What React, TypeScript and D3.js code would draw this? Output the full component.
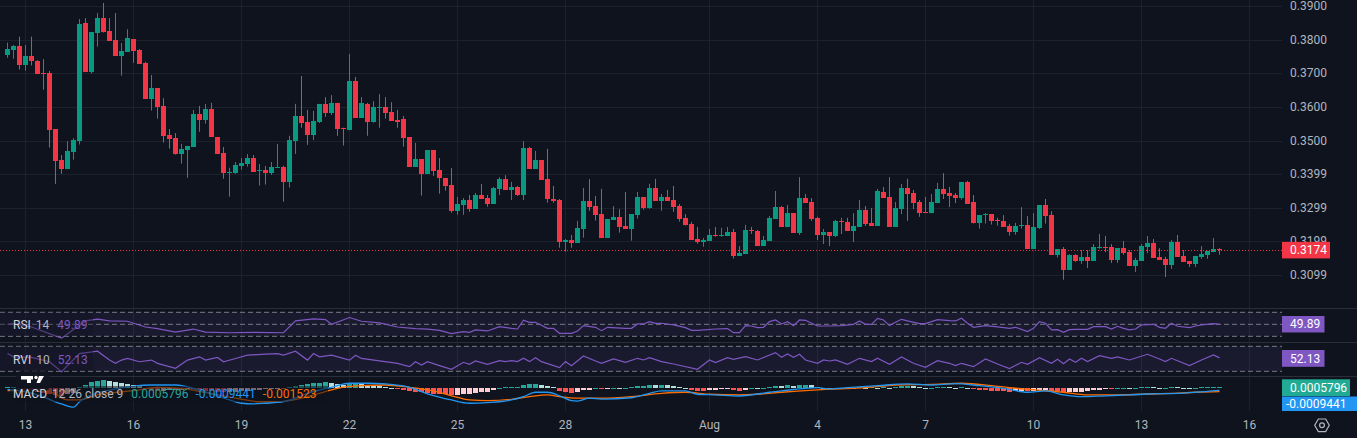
import React from "react";
import * as d3 from "d3";

const WIDTH = 1357;
const HEIGHT = 438;
const PLOT_RIGHT = 1282;

// 4h candles [open, high, low, close], first one Jul 12 12:00
const candles: [number, number, number, number][] = [
  [0.3755, 0.3791, 0.3746, 0.3772], [0.3770, 0.3784, 0.3743, 0.3781], [0.3781, 0.3809, 0.3711, 0.3726],
  [0.3726, 0.3784, 0.3708, 0.3751], [0.3751, 0.3809, 0.3723, 0.3736], [0.3736, 0.3739, 0.3698, 0.3699],
  [0.3701, 0.3742, 0.3651, 0.3699], [0.3701, 0.3707, 0.3479, 0.3532], [0.3534, 0.3534, 0.3371, 0.3440],
  [0.3442, 0.3457, 0.3401, 0.3416], [0.3416, 0.3498, 0.3416, 0.3469], [0.3467, 0.3507, 0.3443, 0.3501],
  [0.3499, 0.3861, 0.3488, 0.3846], [0.3849, 0.3864, 0.3705, 0.3705], [0.3705, 0.3823, 0.3699, 0.3823],
  [0.3821, 0.3879, 0.3779, 0.3864], [0.3864, 0.3909, 0.3821, 0.3824], [0.3826, 0.3864, 0.3797, 0.3797],
  [0.3799, 0.3879, 0.3752, 0.3752], [0.3752, 0.3790, 0.3693, 0.3766], [0.3764, 0.3831, 0.3764, 0.3805],
  [0.3802, 0.3802, 0.3731, 0.3767], [0.3769, 0.3772, 0.3728, 0.3728], [0.3730, 0.3734, 0.3624, 0.3624],
  [0.3624, 0.3695, 0.3589, 0.3656], [0.3656, 0.3656, 0.3565, 0.3601], [0.3603, 0.3626, 0.3494, 0.3514],
  [0.3516, 0.3534, 0.3476, 0.3505], [0.3507, 0.3522, 0.3458, 0.3461], [0.3461, 0.3490, 0.3431, 0.3475],
  [0.3473, 0.3484, 0.3389, 0.3484], [0.3482, 0.3591, 0.3482, 0.3579], [0.3579, 0.3603, 0.3526, 0.3562],
  [0.3562, 0.3609, 0.3550, 0.3594], [0.3594, 0.3612, 0.3511, 0.3511], [0.3510, 0.3510, 0.3461, 0.3461],
  [0.3463, 0.3481, 0.3386, 0.3404], [0.3404, 0.3419, 0.3333, 0.3406], [0.3404, 0.3436, 0.3401, 0.3427],
  [0.3425, 0.3448, 0.3413, 0.3433], [0.3431, 0.3460, 0.3422, 0.3448], [0.3448, 0.3457, 0.3407, 0.3407],
  [0.3410, 0.3430, 0.3366, 0.3412], [0.3412, 0.3424, 0.3369, 0.3404], [0.3404, 0.3436, 0.3398, 0.3421],
  [0.3420, 0.3490, 0.3419, 0.3421], [0.3421, 0.3425, 0.3318, 0.3378], [0.3378, 0.3514, 0.3360, 0.3501],
  [0.3499, 0.3609, 0.3460, 0.3573], [0.3573, 0.3692, 0.3538, 0.3553], [0.3555, 0.3591, 0.3487, 0.3516],
  [0.3516, 0.3588, 0.3501, 0.3558], [0.3555, 0.3609, 0.3552, 0.3609], [0.3609, 0.3629, 0.3570, 0.3582],
  [0.3582, 0.3635, 0.3576, 0.3612], [0.3612, 0.3612, 0.3514, 0.3534], [0.3537, 0.3538, 0.3485, 0.3535],
  [0.3531, 0.3757, 0.3531, 0.3677], [0.3677, 0.3689, 0.3568, 0.3568], [0.3568, 0.3629, 0.3568, 0.3612],
  [0.3609, 0.3612, 0.3514, 0.3556], [0.3556, 0.3617, 0.3553, 0.3600], [0.3598, 0.3638, 0.3538, 0.3600],
  [0.3600, 0.3629, 0.3565, 0.3583], [0.3585, 0.3614, 0.3559, 0.3559], [0.3561, 0.3591, 0.3538, 0.3556],
  [0.3564, 0.3573, 0.3482, 0.3508], [0.3510, 0.3510, 0.3422, 0.3422], [0.3422, 0.3493, 0.3422, 0.3445],
  [0.3445, 0.3445, 0.3336, 0.3401], [0.3401, 0.3472, 0.3401, 0.3472], [0.3472, 0.3472, 0.3395, 0.3410],
  [0.3412, 0.3448, 0.3342, 0.3389], [0.3389, 0.3389, 0.3351, 0.3366], [0.3368, 0.3418, 0.3285, 0.3291],
  [0.3291, 0.3332, 0.3279, 0.3311], [0.3308, 0.3329, 0.3279, 0.3323], [0.3323, 0.3338, 0.3288, 0.3297],
  [0.3297, 0.3344, 0.3297, 0.3338], [0.3338, 0.3371, 0.3326, 0.3326], [0.3329, 0.3338, 0.3303, 0.3312],
  [0.3312, 0.3362, 0.3312, 0.3359], [0.3356, 0.3391, 0.3338, 0.3385], [0.3385, 0.3397, 0.3353, 0.3353],
  [0.3353, 0.3377, 0.3323, 0.3362], [0.3362, 0.3365, 0.3335, 0.3338], [0.3338, 0.3498, 0.3323, 0.3478],
  [0.3478, 0.3481, 0.3416, 0.3416], [0.3416, 0.3469, 0.3416, 0.3442], [0.3442, 0.3442, 0.3383, 0.3383],
  [0.3385, 0.3475, 0.3315, 0.3326], [0.3326, 0.3365, 0.3315, 0.3320], [0.3323, 0.3326, 0.3181, 0.3199],
  [0.3199, 0.3207, 0.3169, 0.3204], [0.3204, 0.3219, 0.3181, 0.3196], [0.3196, 0.3261, 0.3196, 0.3240],
  [0.3237, 0.3359, 0.3211, 0.3320], [0.3320, 0.3385, 0.3291, 0.3303], [0.3305, 0.3335, 0.3262, 0.3279],
  [0.3281, 0.3356, 0.3211, 0.3211], [0.3211, 0.3267, 0.3211, 0.3267], [0.3264, 0.3305, 0.3264, 0.3272],
  [0.3272, 0.3296, 0.3226, 0.3244], [0.3246, 0.3347, 0.3238, 0.3238], [0.3238, 0.3281, 0.3202, 0.3281],
  [0.3279, 0.3347, 0.3268, 0.3332], [0.3332, 0.3332, 0.3294, 0.3300], [0.3300, 0.3371, 0.3297, 0.3359],
  [0.3359, 0.3386, 0.3321, 0.3321], [0.3321, 0.3341, 0.3291, 0.3332], [0.3332, 0.3353, 0.3321, 0.3321],
  [0.3323, 0.3365, 0.3288, 0.3303], [0.3305, 0.3311, 0.3259, 0.3267], [0.3270, 0.3281, 0.3247, 0.3249],
  [0.3252, 0.3258, 0.3205, 0.3205], [0.3207, 0.3243, 0.3193, 0.3199], [0.3199, 0.3210, 0.3184, 0.3204],
  [0.3202, 0.3237, 0.3202, 0.3219], [0.3218, 0.3243, 0.3214, 0.3216], [0.3216, 0.3240, 0.3214, 0.3218],
  [0.3216, 0.3243, 0.3216, 0.3228], [0.3228, 0.3237, 0.3149, 0.3157], [0.3157, 0.3186, 0.3157, 0.3165],
  [0.3163, 0.3249, 0.3163, 0.3234], [0.3235, 0.3243, 0.3222, 0.3233], [0.3231, 0.3234, 0.3186, 0.3186],
  [0.3186, 0.3216, 0.3186, 0.3204], [0.3201, 0.3275, 0.3201, 0.3270], [0.3267, 0.3350, 0.3267, 0.3302],
  [0.3302, 0.3305, 0.3243, 0.3243], [0.3243, 0.3308, 0.3243, 0.3284], [0.3284, 0.3284, 0.3225, 0.3225],
  [0.3225, 0.3391, 0.3219, 0.3329], [0.3329, 0.3341, 0.3314, 0.3314], [0.3317, 0.3329, 0.3261, 0.3267],
  [0.3270, 0.3273, 0.3204, 0.3219], [0.3219, 0.3237, 0.3192, 0.3228], [0.3228, 0.3228, 0.3186, 0.3216],
  [0.3216, 0.3264, 0.3213, 0.3261], [0.3261, 0.3270, 0.3222, 0.3259], [0.3258, 0.3270, 0.3231, 0.3231],
  [0.3231, 0.3284, 0.3198, 0.3246], [0.3243, 0.3323, 0.3243, 0.3293], [0.3293, 0.3305, 0.3246, 0.3252],
  [0.3255, 0.3299, 0.3246, 0.3246], [0.3246, 0.3356, 0.3246, 0.3350], [0.3347, 0.3362, 0.3329, 0.3329],
  [0.3332, 0.3391, 0.3243, 0.3243], [0.3243, 0.3317, 0.3243, 0.3299], [0.3296, 0.3371, 0.3281, 0.3359],
  [0.3359, 0.3386, 0.3261, 0.3341], [0.3344, 0.3353, 0.3296, 0.3314], [0.3317, 0.3323, 0.3273, 0.3284],
  [0.3287, 0.3332, 0.3284, 0.3285], [0.3284, 0.3341, 0.3284, 0.3317], [0.3314, 0.3374, 0.3314, 0.3356],
  [0.3356, 0.3403, 0.3326, 0.3341], [0.3344, 0.3362, 0.3302, 0.3335], [0.3338, 0.3344, 0.3314, 0.3329],
  [0.3330, 0.3377, 0.3324, 0.3377], [0.3377, 0.3380, 0.3312, 0.3312], [0.3317, 0.3338, 0.3253, 0.3256],
  [0.3256, 0.3278, 0.3238, 0.3278], [0.3280, 0.3284, 0.3253, 0.3282], [0.3281, 0.3281, 0.3250, 0.3262],
  [0.3264, 0.3270, 0.3247, 0.3262], [0.3261, 0.3278, 0.3244, 0.3244], [0.3246, 0.3252, 0.3217, 0.3229],
  [0.3229, 0.3255, 0.3220, 0.3246], [0.3247, 0.3302, 0.3238, 0.3249], [0.3249, 0.3275, 0.3178, 0.3178],
  [0.3178, 0.3284, 0.3178, 0.3243], [0.3240, 0.3308, 0.3237, 0.3308], [0.3308, 0.3326, 0.3253, 0.3276],
  [0.3278, 0.3290, 0.3160, 0.3160], [0.3160, 0.3177, 0.3152, 0.3177], [0.3177, 0.3183, 0.3086, 0.3116],
  [0.3116, 0.3162, 0.3116, 0.3160], [0.3160, 0.3162, 0.3139, 0.3142], [0.3142, 0.3174, 0.3133, 0.3154],
  [0.3154, 0.3174, 0.3121, 0.3142], [0.3142, 0.3192, 0.3142, 0.3183], [0.3181, 0.3222, 0.3178, 0.3183],
  [0.3183, 0.3216, 0.3168, 0.3181], [0.3183, 0.3192, 0.3136, 0.3145], [0.3145, 0.3180, 0.3136, 0.3180],
  [0.3180, 0.3201, 0.3160, 0.3165], [0.3168, 0.3174, 0.3127, 0.3127], [0.3127, 0.3151, 0.3109, 0.3145],
  [0.3142, 0.3192, 0.3142, 0.3186], [0.3183, 0.3216, 0.3165, 0.3195], [0.3195, 0.3207, 0.3151, 0.3151],
  [0.3154, 0.3180, 0.3145, 0.3145], [0.3148, 0.3154, 0.3094, 0.3130], [0.3130, 0.3204, 0.3118, 0.3198],
  [0.3198, 0.3219, 0.3154, 0.3154], [0.3157, 0.3174, 0.3139, 0.3139], [0.3142, 0.3142, 0.3124, 0.3133],
  [0.3133, 0.3157, 0.3124, 0.3157], [0.3154, 0.3186, 0.3148, 0.3162], [0.3160, 0.3171, 0.3148, 0.3171],
  [0.3168, 0.3210, 0.3168, 0.3177], [0.3177, 0.3180, 0.3160, 0.3174],
];

// x axis: candle index of each day label (6 candles per day)
const dayTickIndex = [3, 21, 39, 57, 75, 93, 117, 135, 153, 171, 189, 207];
const dayTickLabels = ["13", "16", "19", "22", "25", "28", "Aug", "4", "7", "10", "13", "16"];

const priceTicks = [0.39, 0.38, 0.37, 0.36, 0.35, 0.34, 0.33, 0.32, 0.31];
const priceTickLabels = ["0.3900", "0.3800", "0.3700", "0.3600", "0.3500", "0.3399", "0.3299", "0.3199", "0.3099"];
const lastPrice = 0.3174;

// indicator lines as [candle index, value]
const rsiPoints: [number, number][] = [
  [0, 50], [1, 51.1], [4, 45.5], [9, 26.9], [12, 48.3], [13, 55.6], [15, 58.5], [17, 55.6], [20, 55.1],
  [23, 45.5], [25, 42.7], [28, 37], [31, 42.1], [33, 37], [37, 35.9], [41, 36.5], [46, 35.9], [48, 55.6],
  [51, 59], [53, 57.9], [54, 50], [57, 61.3], [59, 55.1], [62, 52.3], [65, 45.5], [68, 42.7], [70, 42.1],
  [72, 40], [74, 34.4], [76, 37.8], [77, 36.7], [78, 40.6], [80, 38.9], [82, 46.1], [84, 43.3], [85, 42.2],
  [86, 56.7], [87, 53.3], [88, 53.3], [90, 43.3], [91, 43.3], [92, 35], [94, 35], [95, 38.9], [96, 47.8],
  [98, 45], [99, 39.4], [100, 45], [103, 43.3], [104, 43.3], [105, 50.6], [106, 50.6], [107, 54.4],
  [108, 51.7], [109, 51.7], [111, 48.9], [113, 44.4], [114, 40], [115, 40], [118, 42.2], [120, 42.8],
  [121, 36.1], [122, 36.1], [123, 47.8], [124, 47.2], [125, 44.4], [126, 45], [127, 54.4], [128, 57.2],
  [129, 50.6], [130, 54.4], [131, 47.8], [132, 57.2], [133, 56.7], [135, 47.2], [137, 47.2], [139, 47.8],
  [141, 50], [142, 55.6], [143, 50], [144, 50], [145, 60], [146, 57.2], [147, 47.8], [148, 53.3],
  [149, 58.3], [150, 55.6], [152, 51.1], [153, 51.1], [155, 57.8], [157, 56.1], [158, 55.6], [159, 60],
  [160, 51.7], [161, 45], [163, 47.8], [165, 45.6], [167, 43.3], [168, 45], [170, 37.8], [171, 43.3],
  [172, 54.4], [173, 51.7], [174, 40.6], [175, 41.1], [176, 36.7], [177, 41.1], [178, 41.7], [180, 41.7],
  [181, 46.1], [183, 46.1], [184, 42.2], [185, 46.7], [186, 43.3], [187, 40.6], [188, 42.2], [189, 48.9],
  [191, 50], [192, 45], [193, 43.3], [194, 51.7], [195, 46.7], [197, 44.4], [198, 47.2], [199, 48.9],
  [201, 51.1], [202, 49.89],
];

const rviPoints: [number, number][] = [
  [0, 62.6], [1, 54.7], [4, 53.2], [7, 42.9], [9, 19.2], [12, 62.6], [15, 68.2], [17, 46.9], [18, 39],
  [19, 46.9], [20, 50.8], [22, 42.9], [24, 46.9], [25, 39], [28, 27.1], [30, 46.9], [32, 54.7], [33, 46.9],
  [35, 53.2], [36, 42.9], [38, 50.8], [40, 58.7], [43, 61.1], [45, 62.6], [46, 58.7], [48, 68.2], [50, 46.9],
  [51, 62.6], [52, 54.7], [54, 58.7], [57, 46.9], [58, 58.7], [59, 50.8], [65, 39], [67, 31.1], [68, 42.9],
  [69, 35], [70, 42.9], [72, 33.6], [74, 24.8], [76, 41.6], [77, 36.8], [78, 44.8], [80, 36.8], [82, 45.6],
  [83, 43.2], [84, 45.6], [85, 43.2], [86, 51.2], [87, 43.2], [88, 52.8], [89, 43.2], [92, 28.8], [93, 43.2],
  [94, 33.6], [96, 56.8], [98, 44.8], [99, 39.2], [101, 49.6], [103, 41.6], [105, 51.2], [106, 47.2],
  [107, 52.8], [109, 43.2], [111, 37.6], [115, 24.8], [117, 47.2], [118, 40.8], [120, 52.8], [121, 48.8],
  [123, 55.2], [125, 47.2], [128, 64.8], [129, 53.6], [130, 61.6], [131, 53.6], [132, 60.8], [133, 47.2],
  [135, 39.2], [136, 47.2], [137, 44.8], [138, 47.2], [140, 36.8], [142, 51.2], [144, 43.2], [145, 51.2],
  [147, 36.8], [149, 54.4], [151, 39.2], [153, 29.6], [155, 45.6], [157, 39.2], [158, 33.6], [159, 39.2],
  [161, 31.2], [163, 49.6], [165, 37.6], [167, 26.4], [169, 41.6], [170, 36.8], [172, 52.8], [174, 39.2],
  [175, 48.8], [176, 38.4], [177, 49.6], [178, 41.6], [179, 51.2], [180, 43.2], [182, 57.6], [184, 51.2],
  [185, 54.4], [187, 47.2], [190, 60.8], [192, 49.6], [193, 43.2], [194, 51.2], [197, 33.6], [199, 47.2],
  [201, 59.2], [202, 52.13],
];

const macdPoints: [number, number][] = [
  [0, -0.00045], [2, -0.0011], [5, -0.003], [9, -0.0071], [11, -0.0086], [12, -0.0061], [14, -0.003],
  [17, -0.0008], [21, 0.001], [24, 0.0015], [28, 0.0015], [32, -0.0008], [37, -0.0053], [39, -0.0068],
  [41, -0.0071], [43, -0.0068], [46, -0.0061], [48, -0.0045], [50, -0.0023], [52, -0.0008], [54, 0.00045],
  [57, 0.0023], [60, 0.0023], [63, 0.002], [67, 0.00045], [70, -0.0025], [74, -0.0053], [77, -0.0068],
  [80, -0.0065], [84, -0.0053], [86, -0.0038], [88, -0.0018], [90, -0.0018], [92, -0.0034], [94, -0.0056],
  [95, -0.0058], [97, -0.0045], [99, -0.0049], [104, -0.0043], [107, -0.0023], [109, -0.0012],
  [113, -0.0012], [115, -0.0027], [118, -0.003], [122, -0.0035], [124, -0.003], [127, -0.0018],
  [129, -0.0012], [133, 0], [135, 0.0003], [137, -0.0003], [140, 0.0003], [145, 0.0012], [150, 0.002],
  [154, 0.0015], [158, 0.0021], [162, 0.0012], [166, 0], [170, -0.0018], [173, -0.0012], [176, -0.003],
  [179, -0.0038], [183, -0.0034], [187, -0.003], [190, -0.0026], [195, -0.0023], [198, -0.0018],
  [202, -0.0009441],
];

const signalPoints: [number, number][] = [
  [0, -0.0011], [3, -0.0008], [7, -0.0015], [10, -0.0053], [12, -0.0053], [15, -0.003], [21, -0.0011],
  [25, 0.00045], [29, 0], [33, -0.0019], [38, -0.0045], [42, -0.0061], [45, -0.0061], [49, -0.0045],
  [52, -0.0023], [55, 0], [59, 0.0012], [63, 0.0015], [67, 0.00045], [71, -0.0012], [74, -0.0034],
  [77, -0.0053], [80, -0.0056], [84, -0.005], [87, -0.0038], [90, -0.003], [92, -0.0038], [95, -0.0045],
  [99, -0.0045], [104, -0.0038], [109, -0.0023], [113, -0.0018], [117, -0.0027], [122, -0.003],
  [125, -0.0027], [129, -0.0018], [133, -0.0011], [137, -0.0004], [143, 0.0003], [148, 0.0015],
  [154, 0.0018], [159, 0.0023], [164, 0.0012], [167, 0.0003], [172, -0.0009], [176, -0.0018],
  [180, -0.003], [185, -0.003], [189, -0.0027], [194, -0.0023], [198, -0.0018], [202, -0.001523],
];

// MACD histogram, one value per candle
const macdHist: number[] = [
  0.0006, 0.0007, -0.0003, -0.0007, -0.0011, -0.0016, -0.0021, -0.0025, -0.0031, -0.0033,
  -0.0028, -0.0020, 0.0008, 0.0017, 0.0030, 0.0034, 0.0038, 0.0035, 0.0030, 0.0024,
  0.0020, 0.0015, 0.0009, -0.0004, -0.0010, -0.0011, -0.0010, -0.0009, -0.0008, -0.0006,
  -0.0005, -0.0003, -0.0006, -0.0010, -0.0014, -0.0017, -0.0019, -0.0017, -0.0015, -0.0012,
  -0.0010, -0.0008, -0.0006, -0.0004, -0.0002, -0.0001, -0.0002, 0.0004, 0.0010, 0.0015,
  0.0019, 0.0023, 0.0026, 0.0027, 0.0023, 0.0020, 0.0017, 0.0019, 0.0020, 0.0018,
  0.0015, 0.0012, 0.0009, 0.0006, 0.0003, -0.0003, -0.0007, -0.0011, -0.0015, -0.0019,
  -0.0023, -0.0025, -0.0026, -0.0027, -0.0030, -0.0029, -0.0028, -0.0024, -0.0021, -0.0017,
  -0.0015, -0.0008, 0.0003, 0.0005, 0.0006, 0.0007, 0.0015, 0.0020, 0.0021, 0.0015,
  0.0011, 0.0006, -0.0012, -0.0015, -0.0020, -0.0015, -0.0009, -0.0006, 0.0002, -0.0005,
  -0.0002, 0.0002, 0.0001, 0.0002, 0.0008, 0.0011, 0.0012, 0.0015, 0.0014, 0.0016,
  0.0014, 0.0011, 0.0006, 0.0003, -0.0008, -0.0011, -0.0012, -0.0009, -0.0006, -0.0005,
  -0.0004, -0.0009, -0.0010, -0.0006, 0.0002, 0.0001, 0.0002, 0.0008, 0.0011, 0.0010,
  0.0015, 0.0011, 0.0015, 0.0016, 0.0015, 0.0006, 0.0003, 0.0002, 0.0001, 0.0002,
  0.0003, 0.0002, 0.0006, 0.0003, 0.0004, 0.0001, 0.0006, 0.0003, 0.0006, 0.0009,
  0.0012, 0.0009, 0.0006, 0.0002, 0.0003, 0.0006, 0.0007, 0.0006, 0.0003, 0.0006,
  0.0002, -0.0004, -0.0007, -0.0009, -0.0011, -0.0013, -0.0014, -0.0015, -0.0013, -0.0012,
  -0.0013, -0.0011, -0.0008, -0.0007, -0.0010, -0.0012, -0.0017, -0.0016, -0.00155, -0.0015,
  -0.0014, -0.0009, -0.0006, -0.0004, -0.00045, 0.0002, 0.0003, 0.0002, 0.0003, 0.0006,
  0.0007, 0.0006, 0.0002, 0.0003, 0.0006, 0.0005, 0.0002, 0.0001, 0.0002, 0.0005,
  0.00055, 0.00057, 0.0005796,
];

const BG = "#0e131d";
const GRID = "#1c212d";
const PANE_LINE = "#2a2e39";
const TEXT = "#b2b5be";
const UP = "#089981";
const DOWN = "#f23645";
const PURPLE = "#7e57c2";
const FONT = "Roboto, 'Noto Sans', sans-serif";

function histColor(i: number) {
  const h = macdHist[i];
  const prev = i > 0 ? macdHist[i - 1] : -Infinity;
  if (h >= 0) return prev < h ? "#26a69a" : "#b2dfdb";
  return prev < h ? "#ffcdd2" : "#ff5252";
}

export default function App() {
  const x = d3.scaleLinear().domain([0, 207]).range([7.5, 1249.5]);
  const yPrice = d3.scaleLinear().domain([0.31, 0.39]).range([275, 6]);
  const yRsi = d3.scaleLinear().domain([30, 70]).range([336.3, 312.3]);
  const yRvi = d3.scaleLinear().domain([20, 80]).range([371.3, 346.3]);
  const yMacd = d3.scaleLinear().domain([-0.01, 0.005]).range([410.3, 377.3]);

  const rsiLine = d3.line<[number, number]>().x((d) => x(d[0])).y((d) => yRsi(d[1]));
  const rviLine = d3.line<[number, number]>().x((d) => x(d[0])).y((d) => yRvi(d[1]));
  const macdLine = d3
    .line<[number, number]>()
    .x((d) => x(d[0]))
    .y((d) => yMacd(d[1]))
    .curve(d3.curveMonotoneX);

  const lastY = yPrice(lastPrice);
  const zeroY = yMacd(0);

  return (
    <div style={{ position: "fixed", left: 0, top: 0, width: WIDTH, height: HEIGHT, background: BG }}>
      <svg width={WIDTH} height={HEIGHT} style={{ display: "block", fontFamily: FONT }}>
        <defs>
          <clipPath id="rsiClip">
            <rect x={0} y={309} width={PLOT_RIGHT} height={33} />
          </clipPath>
          <clipPath id="rviClip">
            <rect x={0} y={343} width={PLOT_RIGHT} height={33} />
          </clipPath>
          <clipPath id="macdClip">
            <rect x={0} y={377.5} width={PLOT_RIGHT} height={33.5} />
          </clipPath>
        </defs>
        <rect x={0} y={0} width={WIDTH} height={HEIGHT} fill={BG} />

        {/* grid */}
        {priceTicks.map((t) => (
          <line key={"hg" + t} x1={0} x2={PLOT_RIGHT} y1={Math.round(yPrice(t)) + 0.5} y2={Math.round(yPrice(t)) + 0.5} stroke={GRID} />
        ))}
        {dayTickIndex.map((d, i) => (
          <line key={"vg" + i} x1={x(d)} x2={x(d)} y1={0} y2={411} stroke={GRID} />
        ))}

        {/* pane separators */}
        {[308.5, 342.5, 376.5].map((y) => (
          <line key={"sep" + y} x1={0} x2={WIDTH} y1={y} y2={y} stroke={PANE_LINE} />
        ))}

        {/* candles */}
        {candles.map(([o, h, l, c], i) => {
          const col = c >= o ? UP : DOWN;
          const cx = x(i);
          const top = yPrice(Math.max(o, c));
          const bot = yPrice(Math.min(o, c));
          return (
            <g key={"c" + i}>
              <line x1={cx} x2={cx} y1={yPrice(h)} y2={yPrice(l)} stroke={col} strokeWidth={1} />
              <rect x={cx - 2.5} y={top} width={5} height={Math.max(1, bot - top)} fill={col} shapeRendering="crispEdges" />
            </g>
          );
        })}

        {/* last price line */}
        <line x1={0} x2={PLOT_RIGHT} y1={Math.round(lastY) + 0.5} y2={Math.round(lastY) + 0.5} stroke={DOWN} strokeDasharray="1 2" />

        {/* RSI pane */}
        <rect x={0} y={yRsi(70)} width={PLOT_RIGHT} height={yRsi(30) - yRsi(70)} fill="rgba(126,87,194,0.1)" />
        {[70, 50, 30].map((v) => (
          <line key={"rsil" + v} x1={0} x2={PLOT_RIGHT} y1={yRsi(v)} y2={yRsi(v)} stroke="#787b86" strokeDasharray="5 3" />
        ))}
        <path d={rsiLine(rsiPoints) || ""} fill="none" stroke={PURPLE} strokeWidth={1.2} clipPath="url(#rsiClip)" />

        {/* RVI pane */}
        <rect x={0} y={yRvi(80)} width={PLOT_RIGHT} height={yRvi(20) - yRvi(80)} fill="rgba(126,87,194,0.1)" />
        {[80, 20].map((v) => (
          <line key={"rvil" + v} x1={0} x2={PLOT_RIGHT} y1={yRvi(v)} y2={yRvi(v)} stroke="#787b86" strokeDasharray="5 3" />
        ))}
        <path d={rviLine(rviPoints) || ""} fill="none" stroke={PURPLE} strokeWidth={1.2} clipPath="url(#rviClip)" />

        {/* MACD pane */}
        <g clipPath="url(#macdClip)">
          {macdHist.map((h, i) => {
            const yv = yMacd(h);
            return (
              <rect
                key={"h" + i}
                x={x(i) - 2.5}
                y={Math.min(yv, zeroY)}
                width={5}
                height={Math.max(1, Math.abs(yv - zeroY))}
                fill={histColor(i)}
                shapeRendering="crispEdges"
              />
            );
          })}
          <path d={macdLine(signalPoints) || ""} fill="none" stroke="#ff6d00" strokeWidth={1.3} />
          <path d={macdLine(macdPoints) || ""} fill="none" stroke="#2196f3" strokeWidth={1.3} />
        </g>

        {/* legends */}
        <rect x={0} y={312.5} width={93} height={23.5} fill={BG} opacity={0.35} />
        <text x={13} y={325} dominantBaseline="central" fontSize={12}>
          <tspan fill="#d1d4dc">RSI</tspan>
          <tspan dx={5} fill={TEXT}>14</tspan>
          <tspan dx={8} fill={PURPLE}>49.89</tspan>
        </text>
        <rect x={0} y={346.5} width={93} height={24.5} fill={BG} opacity={0.35} />
        <text x={13} y={359.5} dominantBaseline="central" fontSize={12}>
          <tspan fill="#d1d4dc">RVI</tspan>
          <tspan dx={5} fill={TEXT}>10</tspan>
          <tspan dx={8} fill={PURPLE}>52.13</tspan>
        </text>

        {/* TradingView logo (simplified) */}
        <g>
          <rect x={16} y={371} width={34} height={20} rx={5} fill="#131722" opacity={0.8} />
          <rect x={21} y={376} width={12} height={3.5} fill="#ffffff" />
          <rect x={27} y={376} width={4} height={7} fill="#ffffff" />
          <circle cx={36} cy={377.5} r={1.7} fill="#ffffff" />
          <path d="M39 376 L44 376 L40 383 L36.5 383 Z" fill="#ffffff" />
        </g>

        <rect x={10} y={386} width={318} height={16} fill={BG} opacity={0.55} />
        <text x={13} y={394} dominantBaseline="central" fontSize={12}>
          <tspan fill="#d1d4dc">MACD</tspan>
          <tspan dx={5} fill={TEXT}>12 26 close 9</tspan>
          <tspan dx={8} fill="#26a69a">0.0005796</tspan>
          <tspan dx={7} fill="#2196f3">-0.0009441</tspan>
          <tspan dx={7} fill="#ff6d00">-0.001523</tspan>
        </text>

        {/* price axis */}
        {priceTicks.map((t, i) => (
          <text key={"pl" + t} x={1290} y={yPrice(t)} dominantBaseline="central" fontSize={12} fill={TEXT}>
            {priceTickLabels[i]}
          </text>
        ))}
        <rect x={1282} y={lastY - 8.3} width={48} height={16.6} fill={DOWN} />
        <text x={1290} y={lastY} dominantBaseline="central" fontSize={12} fill="#ffffff">
          {lastPrice.toFixed(4)}
        </text>

        {/* indicator value tags */}
        <rect x={1282} y={316} width={42.5} height={16.5} fill={PURPLE} />
        <text x={1290} y={324.3} dominantBaseline="central" fontSize={12} fill="#ffffff">49.89</text>
        <rect x={1282} y={350} width={42.5} height={16.8} fill={PURPLE} />
        <text x={1290} y={358.5} dominantBaseline="central" fontSize={12} fill="#ffffff">52.13</text>
        <rect x={1282} y={379.3} width={68} height={16.8} fill="#22ab94" />
        <text x={1290} y={387.8} dominantBaseline="central" fontSize={12} fill="#ffffff">0.0005796</text>
        <rect x={1282} y={396.5} width={75} height={14.5} fill="#2196f3" />
        <text x={1286} y={404} dominantBaseline="central" fontSize={12} fill="#ffffff">-0.0009441</text>

        {/* time axis */}
        {dayTickIndex.map((d, i) => (
          <text key={"tl" + i} x={x(d)} y={425} textAnchor="middle" dominantBaseline="central" fontSize={12} fill={TEXT}>
            {dayTickLabels[i]}
          </text>
        ))}

        {/* settings icon */}
        <g transform="translate(1322,425.3)" fill="none" stroke={TEXT} strokeWidth={1.2}>
          <path d={d3.range(6).map((k) => {
            const a = (Math.PI / 3) * k;
            return (k === 0 ? "M" : "L") + (7.3 * Math.cos(a)).toFixed(2) + " " + (7.3 * Math.sin(a)).toFixed(2);
          }).join(" ") + " Z"} />
          <circle r={2.4} />
        </g>
      </svg>
    </div>
  );
}
